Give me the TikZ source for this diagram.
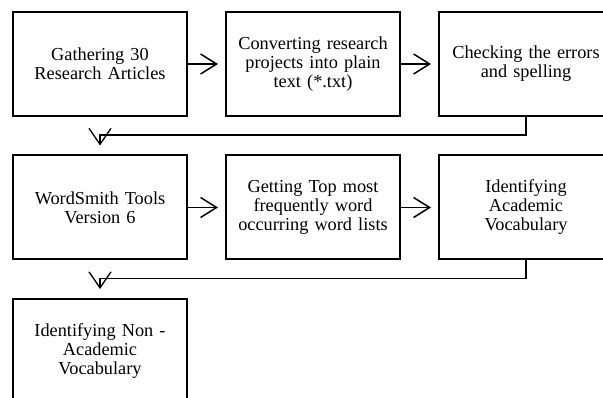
\documentclass[tikz,border=0pt]{standalone}
\usepackage{fontspec}
\setmainfont{Liberation Serif}[Ligatures=TeX]
\usetikzlibrary{arrows.meta, positioning}

\begin{document}
\begin{tikzpicture}[
    x=1pt, y=1pt,
    node distance=37.5pt and 37pt,
    box/.style={draw, line width=2pt, minimum width=174pt, minimum height=104pt,
                text width=170pt, align=center, inner sep=0pt,
                font=\rmfamily\fontsize{18.3}{19}\selectfont},
    arr/.style={-{Straight Barb[length=16pt, width=20pt]}, line width=1.5pt,
                shorten >=7pt},
    turn/.style={-{Straight Barb[length=16pt, width=22pt]}, line width=1.3pt,
                 shorten >=9pt},
  ]
    \useasboundingbox (0,0) rectangle (603,-398);

    % Row 1
    \node[box] (gather) at (100,-64)
      {Gathering 30\\Research Articles};
    \node[box, right=of gather] (convert)
      {Converting research\\projects into plain\\text (*.txt)};
    \node[box, right=of convert] (check)
      {Checking the errors\\and spelling};

    % Row 2
    \node[box, below=of gather] (wordsmith)
      {WordSmith Tools\\Version 6};
    \node[box, right=of wordsmith] (toplist)
      {Getting Top most\\frequently word\\occurring word lists};
    \node[box, right=of toplist] (academic)
      {Identifying\\Academic\\Vocabulary};

    % Row 3
    \node[box, below=of wordsmith] (nonacad)
      {Identifying Non -\\Academic\\Vocabulary};

    \draw[arr] (gather)    -- (convert);
    \draw[arr] (convert)   -- (check);
    \draw[turn] (check.south) -- ++(0,-18) -| (wordsmith.north);
    \draw[arr] (wordsmith) -- (toplist);
    \draw[arr] (toplist)   -- (academic);
    \draw[turn] (academic.south) -- ++(0,-18) -| (nonacad.north);
  \end{tikzpicture}
\end{document}
